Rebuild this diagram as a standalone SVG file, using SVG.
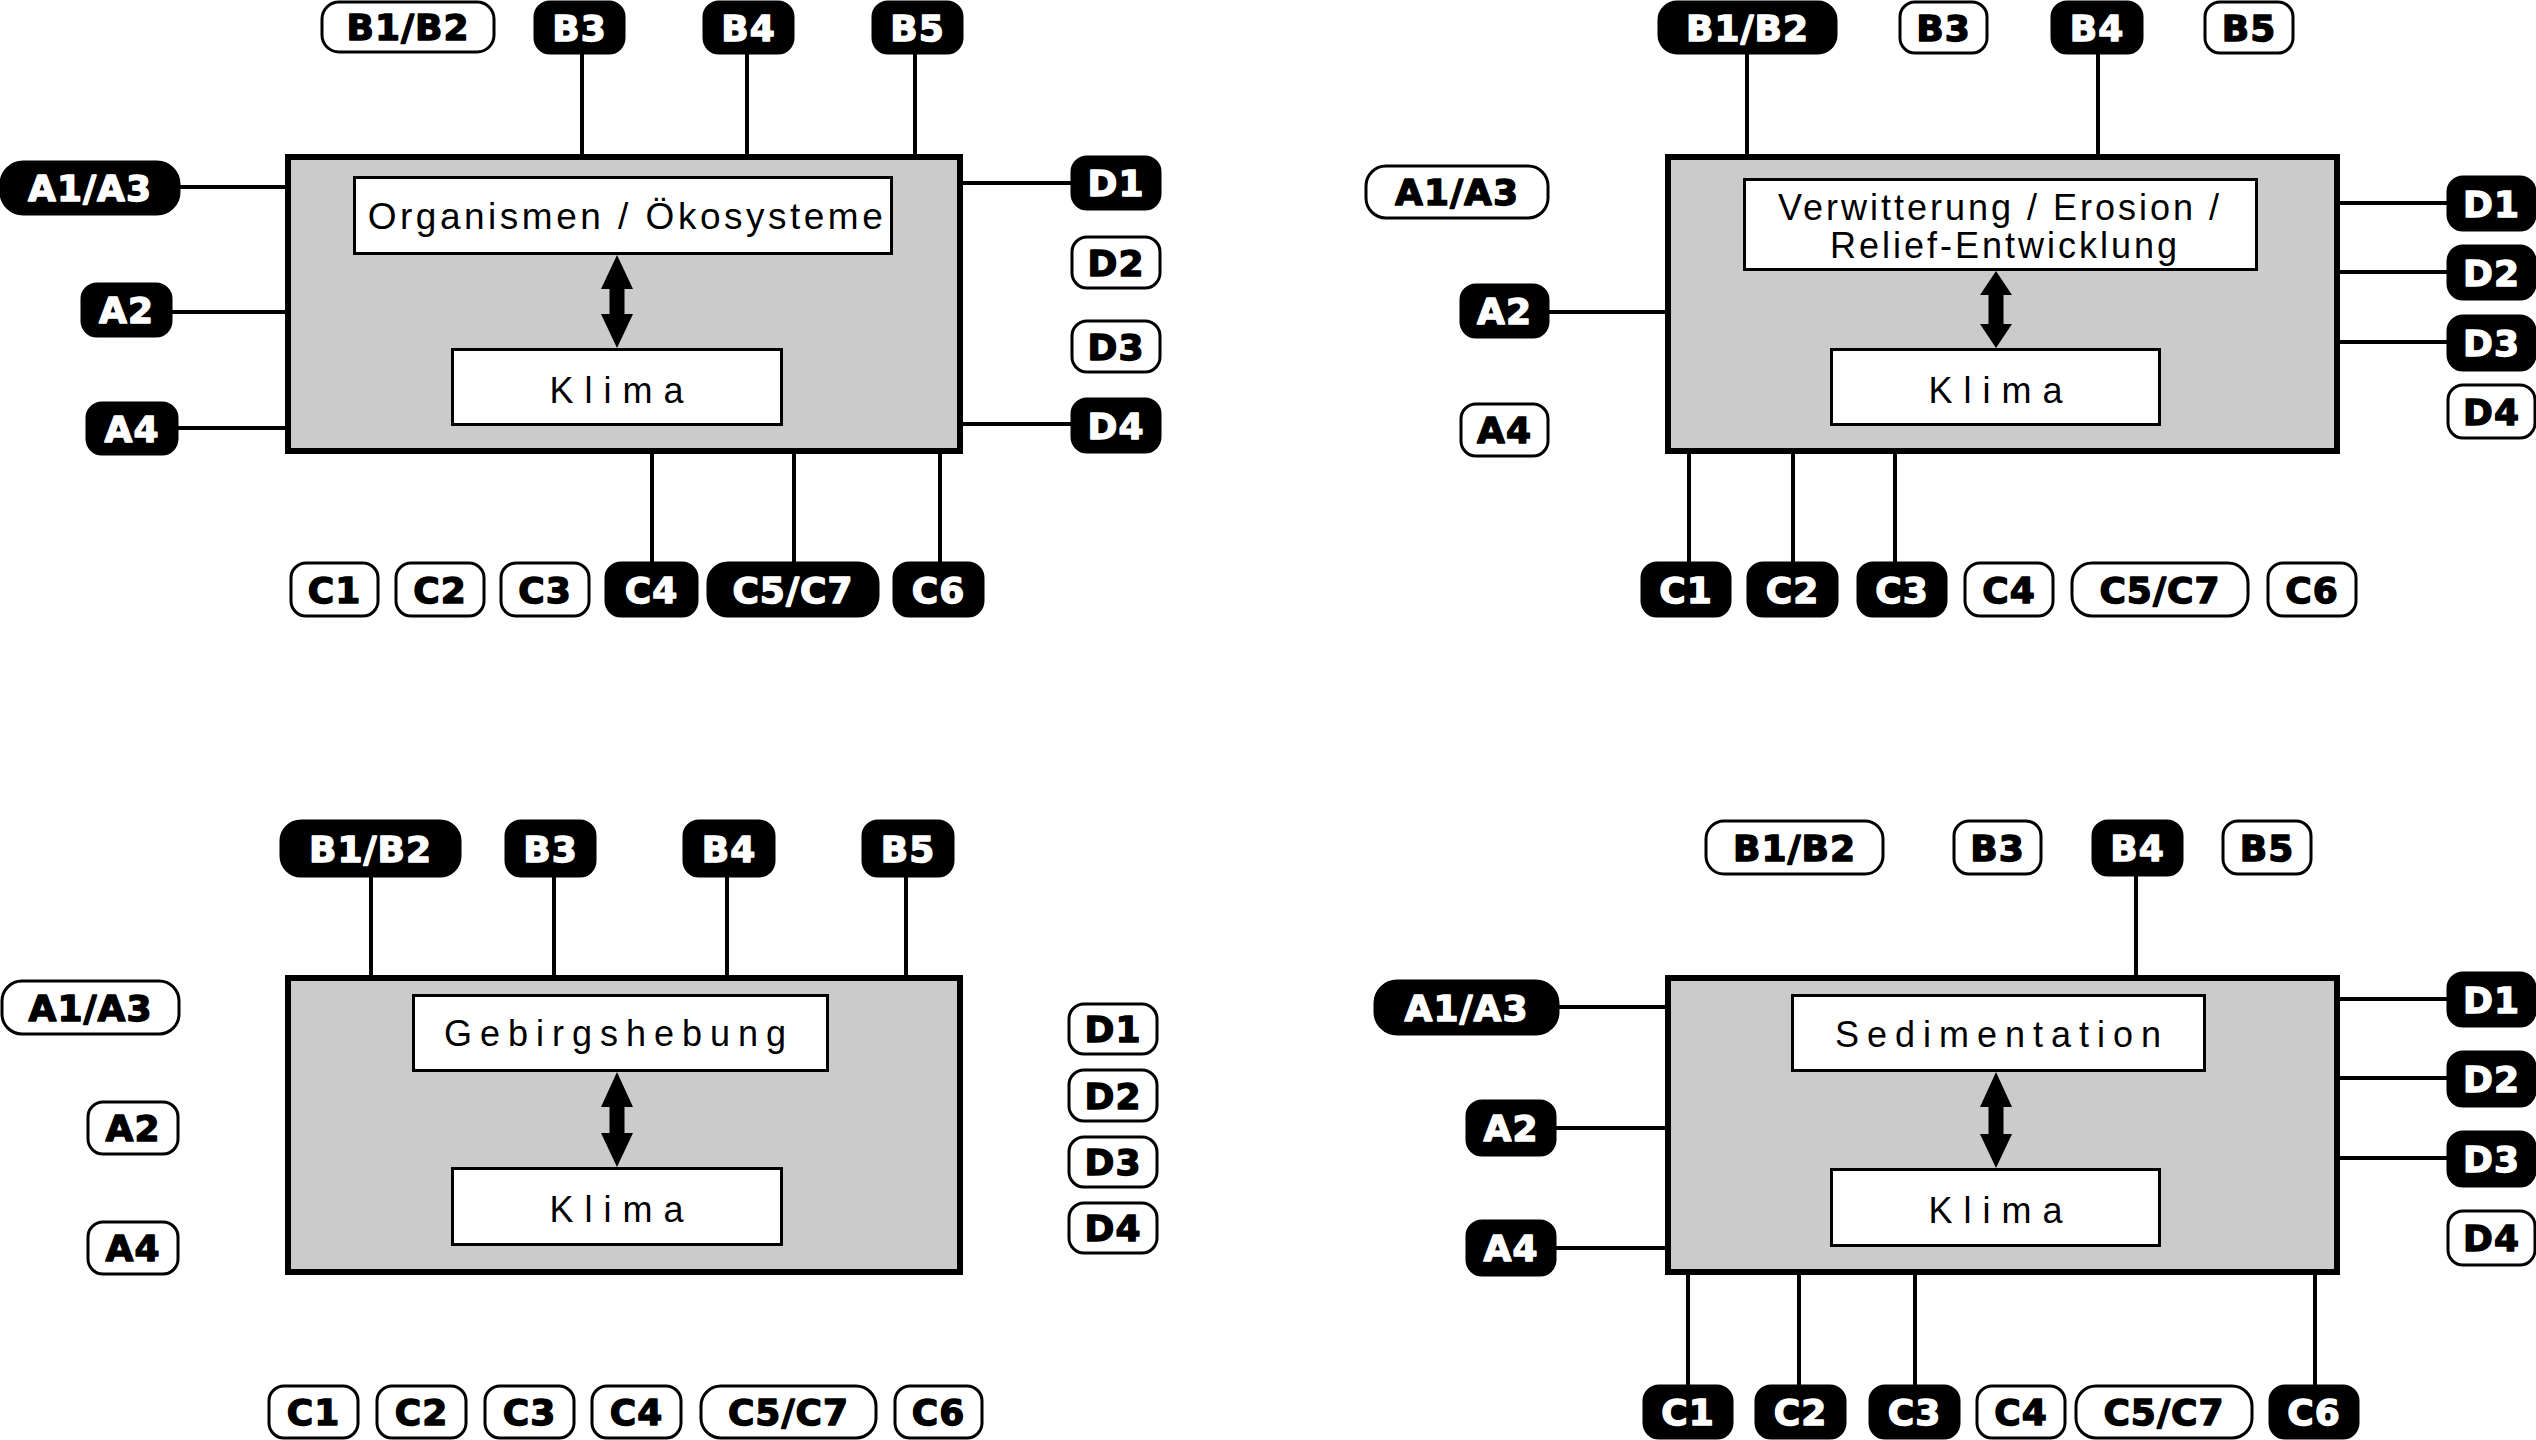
<svg xmlns="http://www.w3.org/2000/svg" width="2536" height="1440" viewBox="0 0 2536 1440">
<style>
.bg{fill:#fff}
.main{fill:#cbcbcb;stroke:#000;stroke-width:6}
.inner{fill:#fff;stroke:#000;stroke-width:3}
.arr{fill:#000}
.lb{fill:#000;stroke:#000;stroke-width:3}
.lw{fill:#fff;stroke:#000;stroke-width:3}
.tb,.tw{font-family:"DejaVu Sans","Liberation Sans",sans-serif;font-weight:bold;font-size:36px;text-anchor:middle;letter-spacing:1px;stroke-width:1.4px;stroke-linejoin:round}
.tb{fill:#fff;stroke:#fff}
.tw{fill:#000;stroke:#000}
.ti{font-family:"Liberation Sans",Arial,sans-serif;font-size:36px;text-anchor:middle;fill:#000;letter-spacing:3px}
.to{font-size:37px;letter-spacing:3.5px}
.tk{letter-spacing:11px}
.tg{letter-spacing:8px}
.ln{stroke:#000;stroke-width:4;fill:none}
</style>
<rect class="bg" x="0" y="0" width="2536" height="1440"/>
<g id="connectors">
<path class="ln" d="M582 53V155M747 53V155M915 53V155M179 187H286M171 312H286M177 428H286M962 183H1072M962 424H1072M652 453V563M794 453V563M940 453V563"/>
<path class="ln" d="M1747 53V155M2098 53V155M1548 312H1666M2339 203H2448M2339 272H2448M2339 342H2448M1689 453V563M1793 453V563M1895 453V563"/>
<path class="ln" d="M371 876V976M554 876V976M727 876V976M906 876V976"/>
<path class="ln" d="M2136 874V976M1558 1007H1666M1555 1128H1666M1555 1248H1666M2339 999H2448M2339 1078H2448M2339 1158H2448M1688 1274V1386M1799 1274V1386M1915 1274V1386M2315 1274V1386"/>
</g>
<g id="tl-system">
<rect class="main" x="288" y="157" width="672" height="294"/>
<rect class="inner" x="354.5" y="177.5" width="537" height="76"/>
<text class="ti to" x="627" y="229">Organismen / Ökosysteme</text>
<rect class="inner" x="452.5" y="349.5" width="329" height="75"/>
<text class="ti tk" x="622" y="403">Klima</text>
<polygon class="arr" points="617,255 633,289 624.5,289 624.5,314 633,314 617,348 601,314 609.5,314 609.5,289 601,289"/>
</g>
<g id="tr-system">
<rect class="main" x="1668" y="157" width="669" height="294"/>
<rect class="inner" x="1744.5" y="179.5" width="512" height="90"/>
<text class="ti" x="2000" y="220">Verwitterung / Erosion /</text>
<text class="ti" x="2005" y="258">Relief-Entwicklung</text>
<rect class="inner" x="1831.5" y="349.5" width="328" height="75"/>
<text class="ti tk" x="2001" y="403">Klima</text>
<polygon class="arr" points="1996,271 2012,295 2003.5,295 2003.5,324 2012,324 1996,348 1980,324 1988.5,324 1988.5,295 1980,295"/>
</g>
<g id="bl-system">
<rect class="main" x="288" y="978" width="672" height="294"/>
<rect class="inner" x="413.5" y="995.5" width="414" height="75"/>
<text class="ti tg" x="619" y="1046">Gebirgshebung</text>
<rect class="inner" x="452.5" y="1168.5" width="329" height="76"/>
<text class="ti tk" x="622" y="1222">Klima</text>
<polygon class="arr" points="617,1072 633,1107 624.5,1107 624.5,1133 633,1133 617,1167 601,1133 609.5,1133 609.5,1107 601,1107"/>
</g>
<g id="br-system">
<rect class="main" x="1668" y="978" width="669" height="294"/>
<rect class="inner" x="1792.5" y="995.5" width="412" height="75"/>
<text class="ti tg" x="2002" y="1047">Sedimentation</text>
<rect class="inner" x="1831.5" y="1169.5" width="328" height="76"/>
<text class="ti tk" x="2001" y="1223">Klima</text>
<polygon class="arr" points="1996,1072 2012,1107 2003.5,1107 2003.5,1134 2012,1134 1996,1168 1980,1134 1988.5,1134 1988.5,1107 1980,1107"/>
</g>
<g id="tl-labels">
<g id="tl-B1B2"><rect class="lw" x="322" y="2" width="172" height="50" rx="17"/><text class="tw" x="408" y="40">B1/B2</text></g>
<g id="tl-B3"><rect class="lb" x="535" y="2" width="89" height="51" rx="15"/><text class="tb" x="579.5" y="40.5">B3</text></g>
<g id="tl-B4"><rect class="lb" x="704" y="2" width="89" height="51" rx="15"/><text class="tb" x="748.5" y="40.5">B4</text></g>
<g id="tl-B5"><rect class="lb" x="873" y="2" width="89" height="51" rx="15"/><text class="tb" x="917.5" y="40.5">B5</text></g>
<g id="tl-A1A3"><rect class="lb" x="1" y="162" width="178" height="52" rx="22"/><text class="tb" x="90" y="201">A1/A3</text></g>
<g id="tl-A2"><rect class="lb" x="82" y="284" width="89" height="52" rx="15"/><text class="tb" x="126.5" y="323">A2</text></g>
<g id="tl-A4"><rect class="lb" x="87" y="403" width="90" height="51" rx="15"/><text class="tb" x="132" y="441.5">A4</text></g>
<g id="tl-D1"><rect class="lb" x="1072" y="157" width="88" height="52" rx="15"/><text class="tb" x="1116" y="196">D1</text></g>
<g id="tl-D2"><rect class="lw" x="1072" y="237" width="88" height="51" rx="15"/><text class="tw" x="1116" y="275.5">D2</text></g>
<g id="tl-D3"><rect class="lw" x="1072" y="321" width="88" height="51" rx="15"/><text class="tw" x="1116" y="359.5">D3</text></g>
<g id="tl-D4"><rect class="lb" x="1072" y="399" width="88" height="53" rx="15"/><text class="tb" x="1116" y="438.5">D4</text></g>
<g id="tl-C1"><rect class="lw" x="291" y="563" width="87" height="53" rx="15"/><text class="tw" x="334.5" y="602.5">C1</text></g>
<g id="tl-C2"><rect class="lw" x="396" y="563" width="88" height="53" rx="15"/><text class="tw" x="440" y="602.5">C2</text></g>
<g id="tl-C3"><rect class="lw" x="501" y="563" width="88" height="53" rx="15"/><text class="tw" x="545" y="602.5">C3</text></g>
<g id="tl-C4"><rect class="lb" x="606" y="563" width="91" height="53" rx="15"/><text class="tb" x="651.5" y="602.5">C4</text></g>
<g id="tl-C5C7"><rect class="lb" x="708" y="563" width="170" height="53" rx="20"/><text class="tb" x="793" y="602.5">C5/C7</text></g>
<g id="tl-C6"><rect class="lb" x="894" y="563" width="89" height="53" rx="15"/><text class="tb" x="938.5" y="602.5">C6</text></g>
</g>
<g id="tr-labels">
<g id="tr-B1B2"><rect class="lb" x="1659" y="2" width="177" height="51" rx="18"/><text class="tb" x="1747.5" y="40.5">B1/B2</text></g>
<g id="tr-B3"><rect class="lw" x="1900" y="2" width="87" height="51" rx="15"/><text class="tw" x="1943.5" y="40.5">B3</text></g>
<g id="tr-B4"><rect class="lb" x="2052" y="2" width="90" height="51" rx="15"/><text class="tb" x="2097" y="40.5">B4</text></g>
<g id="tr-B5"><rect class="lw" x="2205" y="2" width="88" height="51" rx="15"/><text class="tw" x="2249" y="40.5">B5</text></g>
<g id="tr-A1A3"><rect class="lw" x="1366" y="166" width="182" height="52" rx="20"/><text class="tw" x="1457" y="205">A1/A3</text></g>
<g id="tr-A2"><rect class="lb" x="1461" y="285" width="87" height="52" rx="15"/><text class="tb" x="1504.5" y="324">A2</text></g>
<g id="tr-A4"><rect class="lw" x="1461" y="404" width="87" height="52" rx="15"/><text class="tw" x="1504.5" y="443">A4</text></g>
<g id="tr-D1"><rect class="lb" x="2448" y="177" width="87" height="53" rx="15"/><text class="tb" x="2491.5" y="216.5">D1</text></g>
<g id="tr-D2"><rect class="lb" x="2448" y="246" width="87" height="53" rx="15"/><text class="tb" x="2491.5" y="285.5">D2</text></g>
<g id="tr-D3"><rect class="lb" x="2448" y="316" width="87" height="54" rx="15"/><text class="tb" x="2491.5" y="356">D3</text></g>
<g id="tr-D4"><rect class="lw" x="2448" y="385" width="87" height="53" rx="15"/><text class="tw" x="2491.5" y="424.5">D4</text></g>
<g id="tr-C1"><rect class="lb" x="1642" y="563" width="88" height="53" rx="15"/><text class="tb" x="1686" y="602.5">C1</text></g>
<g id="tr-C2"><rect class="lb" x="1748" y="563" width="89" height="53" rx="15"/><text class="tb" x="1792.5" y="602.5">C2</text></g>
<g id="tr-C3"><rect class="lb" x="1858" y="563" width="88" height="53" rx="15"/><text class="tb" x="1902" y="602.5">C3</text></g>
<g id="tr-C4"><rect class="lw" x="1965" y="563" width="88" height="53" rx="15"/><text class="tw" x="2009" y="602.5">C4</text></g>
<g id="tr-C5C7"><rect class="lw" x="2072" y="563" width="176" height="53" rx="20"/><text class="tw" x="2160" y="602.5">C5/C7</text></g>
<g id="tr-C6"><rect class="lw" x="2268" y="563" width="88" height="53" rx="15"/><text class="tw" x="2312" y="602.5">C6</text></g>
</g>
<g id="bl-labels">
<g id="bl-B1B2"><rect class="lb" x="281" y="821" width="179" height="55" rx="20"/><text class="tb" x="370.5" y="861.5">B1/B2</text></g>
<g id="bl-B3"><rect class="lb" x="506" y="821" width="89" height="55" rx="15"/><text class="tb" x="550.5" y="861.5">B3</text></g>
<g id="bl-B4"><rect class="lb" x="684" y="821" width="90" height="55" rx="15"/><text class="tb" x="729" y="861.5">B4</text></g>
<g id="bl-B5"><rect class="lb" x="863" y="821" width="90" height="55" rx="15"/><text class="tb" x="908" y="861.5">B5</text></g>
<g id="bl-A1A3"><rect class="lw" x="2" y="981" width="177" height="53" rx="20"/><text class="tw" x="90.5" y="1020.5">A1/A3</text></g>
<g id="bl-A2"><rect class="lw" x="88" y="1102" width="90" height="52" rx="15"/><text class="tw" x="133" y="1141">A2</text></g>
<g id="bl-A4"><rect class="lw" x="88" y="1222" width="90" height="52" rx="15"/><text class="tw" x="133" y="1261">A4</text></g>
<g id="bl-D1"><rect class="lw" x="1069" y="1004" width="88" height="50" rx="15"/><text class="tw" x="1113" y="1042">D1</text></g>
<g id="bl-D2"><rect class="lw" x="1069" y="1070" width="88" height="51" rx="15"/><text class="tw" x="1113" y="1108.5">D2</text></g>
<g id="bl-D3"><rect class="lw" x="1069" y="1137" width="88" height="50" rx="15"/><text class="tw" x="1113" y="1175">D3</text></g>
<g id="bl-D4"><rect class="lw" x="1069" y="1203" width="88" height="50" rx="15"/><text class="tw" x="1113" y="1241">D4</text></g>
<g id="bl-C1"><rect class="lw" x="269" y="1386" width="89" height="52" rx="15"/><text class="tw" x="313.5" y="1425">C1</text></g>
<g id="bl-C2"><rect class="lw" x="377" y="1386" width="89" height="52" rx="15"/><text class="tw" x="421.5" y="1425">C2</text></g>
<g id="bl-C3"><rect class="lw" x="485" y="1386" width="89" height="52" rx="15"/><text class="tw" x="529.5" y="1425">C3</text></g>
<g id="bl-C4"><rect class="lw" x="592" y="1386" width="89" height="52" rx="15"/><text class="tw" x="636.5" y="1425">C4</text></g>
<g id="bl-C5C7"><rect class="lw" x="701" y="1386" width="175" height="52" rx="20"/><text class="tw" x="788.5" y="1425">C5/C7</text></g>
<g id="bl-C6"><rect class="lw" x="895" y="1386" width="87" height="52" rx="15"/><text class="tw" x="938.5" y="1425">C6</text></g>
</g>
<g id="br-labels">
<g id="br-B1B2"><rect class="lw" x="1706" y="821" width="177" height="53" rx="18"/><text class="tw" x="1794.5" y="860.5">B1/B2</text></g>
<g id="br-B3"><rect class="lw" x="1954" y="821" width="87" height="53" rx="15"/><text class="tw" x="1997.5" y="860.5">B3</text></g>
<g id="br-B4"><rect class="lb" x="2093" y="821" width="89" height="54" rx="15"/><text class="tb" x="2137.5" y="861">B4</text></g>
<g id="br-B5"><rect class="lw" x="2223" y="821" width="88" height="53" rx="15"/><text class="tw" x="2267" y="860.5">B5</text></g>
<g id="br-A1A3"><rect class="lb" x="1375" y="981" width="183" height="53" rx="22"/><text class="tb" x="1466.5" y="1020.5">A1/A3</text></g>
<g id="br-A2"><rect class="lb" x="1467" y="1101" width="88" height="54" rx="15"/><text class="tb" x="1511" y="1141">A2</text></g>
<g id="br-A4"><rect class="lb" x="1467" y="1221" width="88" height="54" rx="15"/><text class="tb" x="1511" y="1261">A4</text></g>
<g id="br-D1"><rect class="lb" x="2448" y="973" width="87" height="53" rx="15"/><text class="tb" x="2491.5" y="1012.5">D1</text></g>
<g id="br-D2"><rect class="lb" x="2448" y="1052" width="87" height="54" rx="15"/><text class="tb" x="2491.5" y="1092">D2</text></g>
<g id="br-D3"><rect class="lb" x="2448" y="1132" width="87" height="54" rx="15"/><text class="tb" x="2491.5" y="1172">D3</text></g>
<g id="br-D4"><rect class="lw" x="2448" y="1211" width="87" height="54" rx="15"/><text class="tw" x="2491.5" y="1251">D4</text></g>
<g id="br-C1"><rect class="lb" x="1644" y="1386" width="88" height="52" rx="15"/><text class="tb" x="1688" y="1425">C1</text></g>
<g id="br-C2"><rect class="lb" x="1756" y="1386" width="89" height="52" rx="15"/><text class="tb" x="1800.5" y="1425">C2</text></g>
<g id="br-C3"><rect class="lb" x="1870" y="1386" width="89" height="52" rx="15"/><text class="tb" x="1914.5" y="1425">C3</text></g>
<g id="br-C4"><rect class="lw" x="1977" y="1386" width="88" height="52" rx="15"/><text class="tw" x="2021" y="1425">C4</text></g>
<g id="br-C5C7"><rect class="lw" x="2076" y="1386" width="176" height="52" rx="20"/><text class="tw" x="2164" y="1425">C5/C7</text></g>
<g id="br-C6"><rect class="lb" x="2270" y="1386" width="88" height="52" rx="15"/><text class="tb" x="2314" y="1425">C6</text></g>
</g>
</svg>
